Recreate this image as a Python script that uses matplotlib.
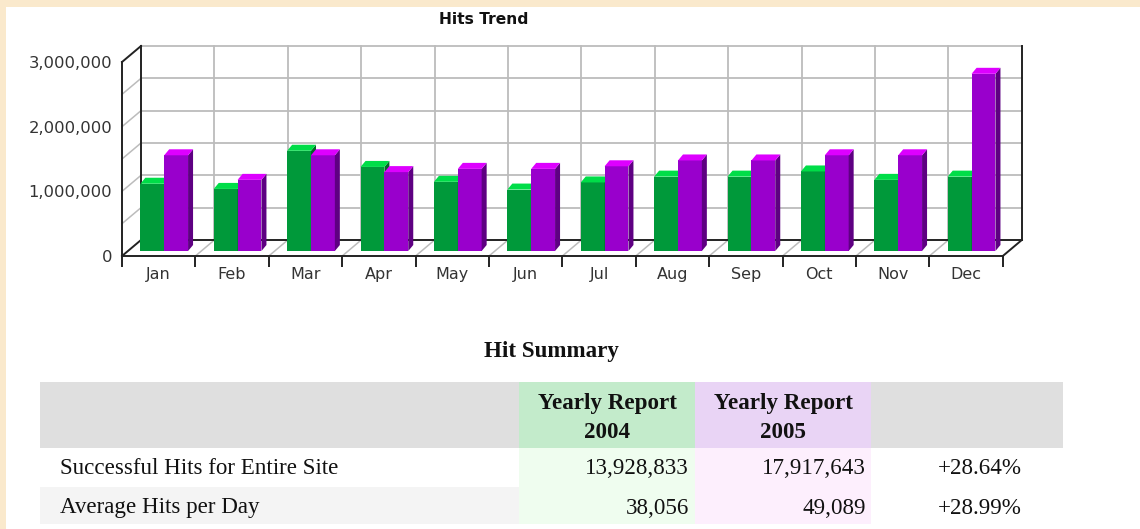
import numpy as np
import matplotlib
matplotlib.use("Agg")
import matplotlib.pyplot as plt
from matplotlib.patches import Polygon, Rectangle
from matplotlib.transforms import offset_copy, IdentityTransform
from matplotlib.ticker import FuncFormatter

# ---- data ----
months = ['Jan', 'Feb', 'Mar', 'Apr', 'May', 'Jun',
          'Jul', 'Aug', 'Sep', 'Oct', 'Nov', 'Dec']
hits_2004 = [1040000, 960000, 1550000, 1300000, 1070000, 950000,
             1060000, 1150000, 1150000, 1230000, 1100000, 1150000]
hits_2005 = [1480000, 1100000, 1480000, 1220000, 1270000, 1270000,
             1310000, 1400000, 1400000, 1480000, 1480000, 2740000]
y_ticks = [0, 1000000, 2000000, 3000000]

header_title = 'Yearly Report'
header_years = ['2004', '2005']
row_labels = ['Successful Hits for Entire Site', 'Average Hits per Day']
total_2004 = [13928833, 38056]
total_2005 = [17917643, 49089]
change = ['+28.64%', '+28.99%']

W, H = 1140, 529
fig = plt.figure(figsize=(W / 100, H / 100), dpi=100)
fig.patch.set_facecolor('#fae9cc')

# page + table live in a pixel-coordinate axes
tab = fig.add_axes([0, 0, 1, 1])
tab.set_xlim(0, W)
tab.set_ylim(H, 0)
tab.axis('off')
tab.add_patch(Rectangle((6, 7), W - 6, H - 7, facecolor='white', edgecolor='none', zorder=0))

serif = 'Liberation Serif'
fs = 16.6
tab.text(551, 351, 'Hit Summary', ha='center', va='center', family=serif,
         weight='bold', fontsize=fs, color='#111')

col_edges = [40, 519, 695, 871, 1063]
row_edges = [382, 448, 487, 524]
row_text_y = [469, 508]
head_colors = ['#dfdfdf', '#c3ebcb', '#e9d4f5', '#dfdfdf']
body_colors = [['#ffffff', '#effdef', '#fdeffd', '#ffffff'],
               ['#f4f4f4', '#effdef', '#fdeffd', '#ffffff']]
for c in range(4):
    x0, x1 = col_edges[c], col_edges[c + 1]
    tab.add_patch(Rectangle((x0, row_edges[0]), x1 - x0, row_edges[1] - row_edges[0],
                            facecolor=head_colors[c], edgecolor='none'))
    for r in range(2):
        tab.add_patch(Rectangle((x0, row_edges[r + 1]), x1 - x0,
                                row_edges[r + 2] - row_edges[r + 1],
                                facecolor=body_colors[r][c], edgecolor='none'))

for c, yr in zip([1, 2], header_years):
    cx = (col_edges[c] + col_edges[c + 1]) / 2
    tab.text(cx, 404, header_title, ha='center', va='center', family=serif,
             weight='bold', fontsize=fs, color='#111')
    tab.text(cx, 432, yr, ha='center', va='center', family=serif,
             weight='bold', fontsize=fs, color='#111')

for r in range(2):
    cy = row_text_y[r]
    tab.text(60, cy, row_labels[r], ha='left', va='center', family=serif,
             fontsize=fs, color='#111')
    tab.text(col_edges[2] - 6, cy, f'{total_2004[r]:,}', ha='right', va='center',
             family=serif, fontsize=fs, color='#111')
    tab.text(col_edges[3] - 5, cy, f'{total_2005[r]:,}', ha='right', va='center',
             family=serif, fontsize=fs, color='#111')
    tab.text(1022, cy, change[r], ha='right', va='center', family=serif,
             fontsize=fs, color='#111')

# ---- pseudo 3D bar chart ----
ax = fig.add_axes([122 / W, 1 - 256 / H, 880.8 / W, 194 / H])
ax.set_xlim(0, 12)
ax.set_ylim(0, 3000000)
ax.patch.set_visible(False)

dark = '#222222'
grid = '#bcbcbc'
DX, DY = 19, 16      # wall depth (pixels)
BX, BY = 5.5, 5      # bars sit a little behind the front plane
BDX, BDY = 5, 6      # bar depth
ident = IdentityTransform()


def px(x, y, ox=0.0, oy=0.0):
    p = ax.transData.transform((x, y))
    return p[0] + ox, p[1] + oy


def seg(a, b, **kw):
    ax.plot([a[0], b[0]], [a[1], b[1]], transform=ident, clip_on=False, **kw)


wall = offset_copy(ax.transData, fig=fig, x=DX, y=DY, units='dots')
for v in np.arange(500000, 3000001, 500000):
    ax.plot([0, 12], [v, v], transform=wall, color=grid, lw=1.3, clip_on=False, zorder=1)
for i in range(1, 12):
    ax.plot([i, i], [0, 3000000], transform=wall, color=grid, lw=1.3, clip_on=False, zorder=1)

# left wall and floor diagonals
for v in np.arange(500000, 3000000, 500000):
    seg(px(0, v), px(0, v, DX, DY), color=grid, lw=1.1, zorder=1)
for i in range(1, 12):
    seg(px(i, 0), px(i, 0, DX, DY), color=grid, lw=1.1, zorder=1)

# dark box edges
for x0 in [0, 12]:
    ax.plot([x0, x0], [0, 3000000], transform=wall, color=dark, lw=1.4, clip_on=False, zorder=2)
ax.plot([0, 12], [0, 0], transform=wall, color=dark, lw=1.4, clip_on=False, zorder=2)
seg(px(0, 0), px(0, 0, DX, DY), color=dark, lw=1.4, zorder=2)
seg(px(0, 3000000), px(0, 3000000, DX, DY), color=dark, lw=1.4, zorder=2)
seg(px(12, 0), px(12, 0, DX, DY), color=dark, lw=1.4, zorder=2)

# bars
w = 0.325
centers = np.arange(12) + 0.5
bar_tr = offset_copy(ax.transData, fig=fig, x=BX, y=BY, units='dots')
series = [(centers - w, hits_2004, '#00993a', '#00dd48', '#006626', 3),
          (centers, hits_2005, '#9900cc', '#dd00ff', '#5e0082', 4)]
for left, vals, front_c, top_c, side_c, z in series:
    ax.bar(left, vals, width=w, align='edge', transform=bar_tr, color=front_c,
           linewidth=0, zorder=z, clip_on=False)
    for xl, v in zip(left, vals):
        xr = xl + w
        top = [px(xl, v, BX, BY), px(xr, v, BX, BY),
               px(xr, v, BX + BDX, BY + BDY), px(xl, v, BX + BDX, BY + BDY)]
        side = [px(xr, 0, BX, BY), px(xr, v, BX, BY),
                px(xr, v, BX + BDX, BY + BDY), px(xr, 0, BX + BDX, BY + BDY)]
        ax.add_patch(Polygon(side, closed=True, transform=ident, facecolor=side_c,
                             edgecolor='none', zorder=z, clip_on=False))
        ax.add_patch(Polygon(top, closed=True, transform=ident, facecolor=top_c,
                             edgecolor='none', zorder=z, clip_on=False))

# front axes
for s in ['top', 'right']:
    ax.spines[s].set_visible(False)
for s in ['left', 'bottom']:
    ax.spines[s].set_color(dark)
    ax.spines[s].set_linewidth(1.4)
ax.set_xticks(centers)
ax.set_xticklabels(months)
ax.set_xticks(np.arange(13), minor=True)
ax.tick_params(axis='x', which='major', length=0, pad=8, labelsize=11.5, labelcolor='#333')
ax.tick_params(axis='x', which='minor', length=8, width=1.4, color=dark)
ax.set_yticks(y_ticks)
ax.yaxis.set_major_formatter(FuncFormatter(lambda v, p: f'{v:,.0f}'))
ax.tick_params(axis='y', length=0, pad=7, labelsize=11.8, labelcolor='#333')

fig.text(484 / W, 1 - 19 / H, 'Hits Trend', ha='center', va='center',
         fontsize=11.2, weight='bold', color='#111')

fig.savefig('out.png', dpi=100, facecolor=fig.get_facecolor())
